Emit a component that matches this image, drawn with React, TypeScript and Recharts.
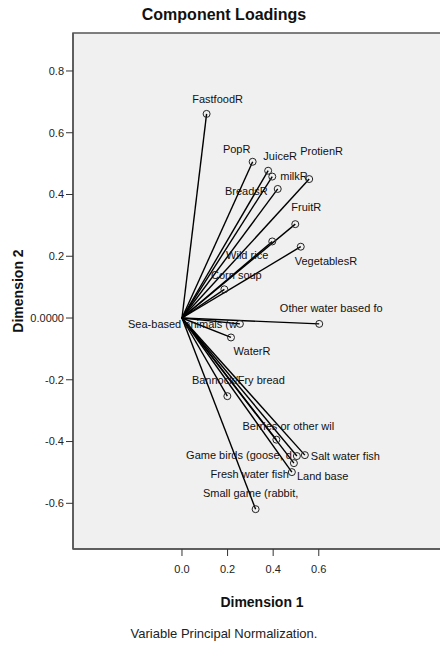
import React from 'react';
import {
  ScatterChart, Scatter, XAxis, YAxis, CartesianGrid, ReferenceLine, ReferenceArea, Label,
} from 'recharts';

const variables = [
  'FastfoodR', 'PopR', 'JuiceR', 'milkR', 'BreadsR', 'ProtienR', 'FruitR', 'Wild rice',
  'VegetablesR', 'Corn soup', 'Other water based fo', 'Sea-based animals (w', 'WaterR',
  'Bannock/Fry bread', 'Berries or other wil', 'Game birds (goose, d', 'Salt water fish',
  'Land base', 'Fresh water fish', 'Small game (rabbit,',
];
const dimension1 = [
  0.108, 0.31, 0.378, 0.396, 0.42, 0.558, 0.497, 0.396,
  0.521, 0.186, 0.602, 0.254, 0.215,
  0.199, 0.414, 0.504, 0.539,
  0.491, 0.482, 0.323,
];
const dimension2 = [
  0.661, 0.506, 0.477, 0.458, 0.418, 0.45, 0.304, 0.248,
  0.231, 0.093, -0.019, -0.019, -0.063,
  -0.253, -0.394, -0.447, -0.444,
  -0.47, -0.499, -0.619,
];
const xTicks = [0, 0.2, 0.4, 0.6];
const yTicks = [-0.6, -0.4, -0.2, 0, 0.2, 0.4, 0.6, 0.8];

// label placement next to each point (anchor, dx, dy in px)
const labelPos: [string, number, number][] = [
  ['middle', 11, -15], ['middle', -16, -13], ['middle', 12, -15], ['start', 8, -1],
  ['end', -10, 2], ['start', -9, -28], ['middle', 11, -17], ['end', -4, 14],
  ['start', -6, 14], ['middle', 12, -14], ['middle', 12, -16], ['end', -3, 0],
  ['middle', 21, 14], ['middle', 11, -16], ['middle', 12, -14], ['end', -5, -1],
  ['start', 6, 1], ['start', 3, 13], ['end', -3, 2], ['middle', -5, -16],
];

const XMIN = -0.478, XMAX = 1.18, YMIN = -0.748, YMAX = 0.923;
const FONT = '"Liberation Sans", Arial, sans-serif';

const points = variables.map((name, i) => ({ name, i, x: dimension1[i], y: dimension2[i] }));

function Point(props: any) {
  const { cx, cy, payload } = props;
  const [anchor, dx, dy] = labelPos[payload.i];
  return (
    <g>
      <circle cx={cx} cy={cy} r={3.5} fill="none" stroke="#222" strokeWidth={1} />
      <text x={cx + dx} y={cy + dy} textAnchor={anchor as any} dominantBaseline="central"
        fontSize={11} fontFamily={FONT} fill="#111">{payload.name}</text>
    </g>
  );
}

export default function App() {
  return (
    <div style={{ position: 'relative', margin: -8, width: 448, height: 656, overflow: 'hidden', background: '#fff', fontFamily: FONT }}>
      <div style={{ position: 'absolute', top: 6, left: 0, width: 448, textAlign: 'center', fontSize: 16, fontWeight: 'bold', color: '#111' }}>
        Component Loadings
      </div>
      <ScatterChart width={460} height={656} margin={{ top: 33, right: 9, bottom: 77, left: 13 }}>
        <CartesianGrid fill="#f0f0f0" horizontal={false} vertical={false} />
        <XAxis type="number" dataKey="x" domain={[XMIN, XMAX]} ticks={xTicks} allowDataOverflow
          tickFormatter={(v: number) => v.toFixed(1)} height={30} tickSize={7} tickMargin={9}
          axisLine={{ stroke: '#555', strokeWidth: 1.5 }} tickLine={{ stroke: '#333' }}
          tick={{ fontSize: 11, fill: '#222', fontFamily: FONT }}>
          <Label content={({ viewBox }: any) => (
            <text x={viewBox.x + viewBox.width / 2} y={602} textAnchor="middle" dominantBaseline="central"
              fontSize={14} fontWeight="bold" fontFamily={FONT} fill="#111">Dimension 1</text>
          )} />
        </XAxis>
        <YAxis type="number" dataKey="y" domain={[YMIN, YMAX]} ticks={yTicks} allowDataOverflow
          tickFormatter={(v: number) => (v === 0 ? '0.0000' : v.toFixed(1))} width={60} tickSize={7} tickMargin={2}
          axisLine={{ stroke: '#555', strokeWidth: 1.5 }} tickLine={{ stroke: '#333' }}
          tick={{ fontSize: 11, fill: '#222', fontFamily: FONT }}>
          <Label content={({ viewBox }: any) => {
            const x = 18, y = viewBox.y + viewBox.height / 2;
            return (
              <text x={x} y={y} transform={`rotate(-90, ${x}, ${y})`} textAnchor="middle" dominantBaseline="central"
                fontSize={14} fontWeight="bold" fontFamily={FONT} fill="#111">Dimension 2</text>
            );
          }} />
        </YAxis>
        <ReferenceArea x1={XMIN} x2={XMAX} y1={YMIN} y2={YMAX} fill="none" stroke="#555" strokeWidth={1.5} />
        {points.map((p) => (
          <ReferenceLine key={p.name} segment={[{ x: 0, y: 0 }, { x: p.x, y: p.y }]}
            stroke="#000" strokeWidth={1.4} />
        ))}
        <Scatter data={points} shape={<Point />} isAnimationActive={false} />
      </ScatterChart>
      <div style={{ position: 'absolute', top: 626, left: 0, width: 448, textAlign: 'center', fontSize: 13, color: '#222' }}>
        Variable Principal Normalization.
      </div>
    </div>
  );
}
